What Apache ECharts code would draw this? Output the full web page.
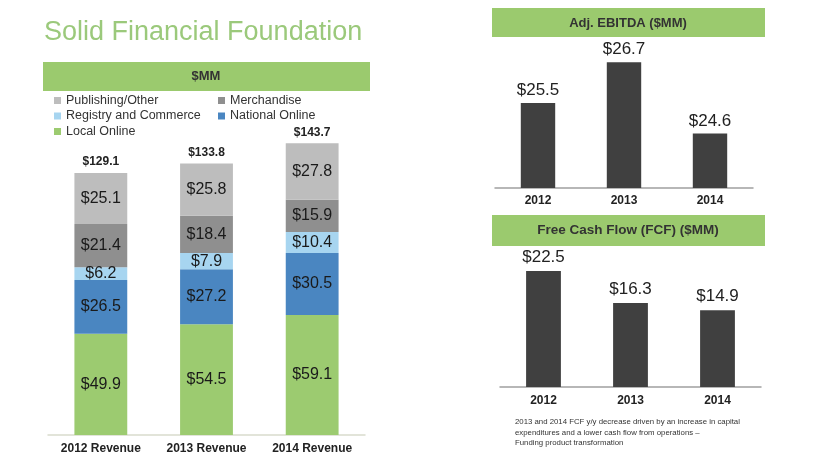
<!DOCTYPE html>
<html lang="en">
<head>
    <meta charset="UTF-8">
    <title>Solid Financial Foundation</title>
    <script src="https://cdn.jsdelivr.net/npm/echarts@6/dist/echarts.min.js"></script>
    <style>
        html, body { margin: 0; padding: 0; background: #fff; }
        #main { width: 820px; height: 461px; }
    </style>
</head>
<body>
    <div id="main"></div>
    <script>
        // revenue ($MM) by segment, stacked bottom -> top
        const revenueYears = ['2012 Revenue', '2013 Revenue', '2014 Revenue'];
        const localOnline = [49.9, 54.5, 59.1];
        const nationalOnline = [26.5, 27.2, 30.5];
        const registryCommerce = [6.2, 7.9, 10.4];
        const merchandise = [21.4, 18.4, 15.9];
        const publishingOther = [25.1, 25.8, 27.8];
        const revenueTotals = [129.1, 133.8, 143.7];

        const years = ['2012', '2013', '2014'];
        const ebitda = [25.5, 26.7, 24.6];
        const fcf = [22.5, 16.3, 14.9];

        const FONT = 'Arial, "Liberation Sans", sans-serif';
        const GREEN = '#9bca6e';

        const chart = echarts.init(document.getElementById('main'));

        function segment(name, data, color) {
            return {
                name: name,
                type: 'bar',
                stack: 'rev',
                xAxisIndex: 0,
                yAxisIndex: 0,
                barWidth: '50%',
                data: data,
                itemStyle: { color: color },
                label: {
                    show: true,
                    position: 'inside',
                    formatter: p => '$' + p.value.toFixed(1),
                    fontSize: 16,
                    color: '#1a1a1a',
                    fontFamily: FONT
                }
            };
        }

        function smallBar(data, xi, yi, dist) {
            return {
                type: 'bar',
                xAxisIndex: xi,
                yAxisIndex: yi,
                barWidth: '40%',
                data: data,
                itemStyle: { color: '#404040' },
                label: {
                    show: true,
                    position: 'top',
                    distance: dist,
                    formatter: p => '$' + p.value.toFixed(1),
                    fontSize: 17,
                    color: '#222',
                    fontFamily: FONT
                }
            };
        }

        const catAxis = (data, grid, lineColor, margin) => ({
            type: 'category',
            gridIndex: grid,
            data: data,
            axisTick: { show: false },
            axisLine: { lineStyle: { color: lineColor, width: 1.5 } },
            axisLabel: {
                margin: margin,
                fontSize: 12,
                fontWeight: 'bold',
                color: '#222',
                fontFamily: FONT
            }
        });

        const valAxis = (grid, min, max) => ({
            type: 'value',
            gridIndex: grid,
            min: min,
            max: max,
            show: false,
            splitLine: { show: false }
        });

        const legendText = { fontSize: 12.5, color: '#333', fontFamily: FONT, lineHeight: 13 };

        let option = {
            animation: false,
            backgroundColor: '#fff',
            grid: [
                { left: 48, right: 455, top: 130.5, bottom: 26 },
                { left: 495, right: 67, top: 35, bottom: 273 },
                { left: 500, right: 59, top: 253, bottom: 74 }
            ],
            legend: [
                {
                    data: ['Publishing/Other', 'Registry and Commerce', 'Local Online'],
                    orient: 'vertical',
                    left: 49, top: 89,
                    itemWidth: 7, itemHeight: 7, itemGap: 2.5,
                    icon: 'rect',
                    textStyle: legendText
                },
                {
                    data: ['Merchandise', 'National Online'],
                    orient: 'vertical',
                    left: 213, top: 89,
                    itemWidth: 7, itemHeight: 7, itemGap: 2.5,
                    icon: 'rect',
                    textStyle: legendText
                }
            ],
            xAxis: [
                catAxis(revenueYears, 0, '#d9dccd', 8),
                catAxis(years, 1, '#a0a0a0', 7),
                catAxis(years, 2, '#a0a0a0', 8)
            ],
            yAxis: [
                valAxis(0, 0, 150),
                valAxis(1, 23, 27.5),
                valAxis(2, 0, 26)
            ],
            series: [
                segment('Local Online', localOnline, '#9ccb70'),
                segment('National Online', nationalOnline, '#4a86c1'),
                segment('Registry and Commerce', registryCommerce, '#a7d5f0'),
                segment('Merchandise', merchandise, '#8f8f8f'),
                segment('Publishing/Other', publishingOther, '#bdbdbd'),
                {
                    name: 'Total',
                    type: 'bar',
                    xAxisIndex: 0,
                    yAxisIndex: 0,
                    barWidth: '50%',
                    barGap: '-100%',
                    z: 1,
                    data: revenueTotals,
                    itemStyle: { color: 'rgba(0,0,0,0)' },
                    label: {
                        show: true,
                        position: 'top',
                        distance: 5,
                        formatter: p => '$' + p.value.toFixed(1),
                        fontSize: 12,
                        fontWeight: 'bold',
                        color: '#222',
                        fontFamily: FONT
                    }
                },
                smallBar(ebitda, 1, 1, 4),
                smallBar(fcf, 2, 2, 5)
            ],
            graphic: [
                {
                    type: 'text', left: 44, top: 19,
                    style: { text: 'Solid Financial Foundation', fontSize: 27, fill: '#9bc97b', fontFamily: FONT }
                },
                { type: 'rect', shape: { x: 43, y: 62, width: 327, height: 29 }, style: { fill: GREEN } },
                {
                    type: 'text', x: 206, y: 76.5,
                    style: { text: '$MM', fontSize: 13, fontWeight: 'bold', fill: '#333', fontFamily: FONT, align: 'center', verticalAlign: 'middle' }
                },
                { type: 'rect', shape: { x: 492, y: 8, width: 273, height: 29 }, style: { fill: GREEN } },
                {
                    type: 'text', x: 628, y: 23,
                    style: { text: 'Adj. EBITDA ($MM)', fontSize: 13, fontWeight: 'bold', fill: '#333', fontFamily: FONT, align: 'center', verticalAlign: 'middle' }
                },
                { type: 'rect', shape: { x: 492, y: 215, width: 273, height: 31 }, style: { fill: GREEN } },
                {
                    type: 'text', x: 628, y: 230.5,
                    style: { text: 'Free Cash Flow (FCF) ($MM)', fontSize: 13.5, fontWeight: 'bold', fill: '#333', fontFamily: FONT, align: 'center', verticalAlign: 'middle' }
                },
                {
                    type: 'text', left: 515, top: 417,
                    style: {
                        text: '2013 and 2014 FCF y/y decrease driven by an increase in capital\nexpenditures and a lower cash flow from operations \u2013\nFunding product transformation',
                        fontSize: 7.8, lineHeight: 10.5, fill: '#333', fontFamily: FONT
                    }
                }
            ]
        };

        chart.setOption(option);
    </script>
</body>
</html>
